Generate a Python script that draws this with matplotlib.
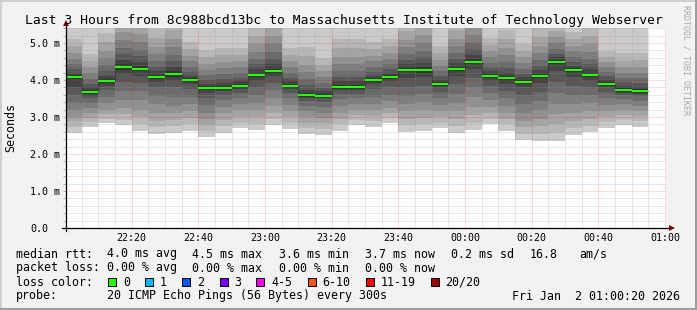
import numpy as np
import pandas as pd
import matplotlib
matplotlib.use('Agg')
import matplotlib.pyplot as plt
import matplotlib.dates as mdates
from matplotlib.ticker import MultipleLocator
from matplotlib.patches import Rectangle

plt.rcParams['font.family'] = ['DejaVu Sans Mono']

# one round of 20 pings every 300 s
steps = pd.date_range('2026-01-01 22:00', periods=35, freq='5min')
view_start = pd.Timestamp('2026-01-01 22:00:20')
view_end = pd.Timestamp('2026-01-02 01:00:20')

median_ms = [4.08, 3.68, 3.97, 4.35, 4.30, 4.08, 4.16, 4.00, 3.78, 3.78,
             3.84, 4.14, 4.24, 3.84, 3.59, 3.57, 3.81, 3.81, 4.00, 4.08,
             4.27, 4.27, 3.89, 4.30, 4.49, 4.11, 4.05, 3.95, 4.11, 4.49,
             4.27, 4.14, 3.89, 3.73, 3.70]

# sorted pings 2..19 of every round (ms)
pings_ms = [
    [2.58, 2.74, 2.88, 3.01, 3.20, 3.38, 3.60, 3.82, 4.02, 4.13, 4.20, 4.30, 4.43, 4.58, 4.74, 4.91, 5.10, 5.58],
    [2.74, 2.86, 2.98, 3.10, 3.25, 3.38, 3.50, 3.58, 3.63, 3.73, 3.80, 3.90, 4.03, 4.18, 4.34, 4.51, 4.70, 5.70],
    [2.83, 2.95, 3.08, 3.20, 3.38, 3.55, 3.73, 3.85, 3.92, 4.03, 4.12, 4.25, 4.41, 4.59, 4.79, 5.02, 5.27, 5.77],
    [2.78, 2.92, 3.08, 3.25, 3.45, 3.70, 3.95, 4.15, 4.28, 4.42, 4.53, 4.69, 4.87, 5.07, 5.30, 5.55, 5.85, 6.35],
    [2.62, 2.80, 3.00, 3.20, 3.45, 3.70, 3.92, 4.10, 4.23, 4.37, 4.48, 4.64, 4.82, 5.02, 5.25, 5.50, 5.80, 6.30],
    [2.54, 2.72, 2.90, 3.10, 3.35, 3.58, 3.80, 3.95, 4.02, 4.14, 4.23, 4.36, 4.52, 4.70, 4.90, 5.13, 5.38, 5.88],
    [2.58, 2.75, 2.92, 3.10, 3.30, 3.55, 3.80, 4.00, 4.09, 4.23, 4.34, 4.50, 4.68, 4.88, 5.11, 5.36, 5.66, 6.16],
    [2.62, 2.80, 2.98, 3.15, 3.35, 3.55, 3.75, 3.90, 3.95, 4.05, 4.12, 4.22, 4.35, 4.50, 4.66, 4.83, 5.02, 5.60],
    [2.47, 2.62, 2.78, 2.95, 3.12, 3.32, 3.50, 3.65, 3.73, 3.83, 3.90, 4.00, 4.13, 4.28, 4.44, 4.61, 4.80, 5.70],
    [2.58, 2.75, 2.92, 3.10, 3.28, 3.45, 3.60, 3.70, 3.73, 3.83, 3.91, 4.02, 4.16, 4.32, 4.49, 4.67, 4.87, 5.70],
    [2.69, 2.85, 3.00, 3.18, 3.35, 3.50, 3.65, 3.76, 3.79, 3.89, 3.96, 4.06, 4.19, 4.34, 4.50, 4.67, 4.86, 5.70],
    [2.65, 2.82, 3.00, 3.18, 3.38, 3.60, 3.82, 4.00, 4.08, 4.20, 4.29, 4.42, 4.58, 4.76, 4.96, 5.19, 5.44, 5.94],
    [2.78, 2.95, 3.12, 3.30, 3.50, 3.72, 3.92, 4.10, 4.17, 4.31, 4.42, 4.58, 4.76, 4.96, 5.19, 5.44, 5.74, 6.24],
    [2.68, 2.85, 3.00, 3.15, 3.32, 3.50, 3.65, 3.75, 3.79, 3.89, 3.96, 4.06, 4.19, 4.34, 4.50, 4.67, 4.86, 5.70],
    [2.54, 2.70, 2.85, 3.00, 3.15, 3.30, 3.42, 3.52, 3.53, 3.65, 3.74, 3.87, 4.03, 4.21, 4.41, 4.64, 4.89, 5.70],
    [2.51, 2.68, 2.83, 2.98, 3.12, 3.28, 3.40, 3.50, 3.52, 3.62, 3.69, 3.79, 3.92, 4.07, 4.23, 4.40, 4.59, 5.60],
    [2.63, 2.80, 2.95, 3.12, 3.30, 3.48, 3.62, 3.74, 3.75, 3.87, 3.96, 4.09, 4.25, 4.43, 4.63, 4.86, 5.11, 5.61],
    [2.78, 2.92, 3.05, 3.20, 3.35, 3.50, 3.62, 3.73, 3.75, 3.87, 3.96, 4.09, 4.25, 4.43, 4.63, 4.86, 5.11, 5.61],
    [2.72, 2.88, 3.02, 3.18, 3.35, 3.55, 3.75, 3.90, 3.95, 4.05, 4.12, 4.22, 4.35, 4.50, 4.66, 4.83, 5.02, 5.60],
    [2.83, 2.97, 3.10, 3.25, 3.42, 3.60, 3.80, 3.96, 4.03, 4.13, 4.20, 4.30, 4.43, 4.58, 4.74, 4.91, 5.10, 5.60],
    [2.60, 2.78, 2.95, 3.15, 3.35, 3.58, 3.82, 4.05, 4.21, 4.33, 4.42, 4.55, 4.71, 4.89, 5.09, 5.32, 5.57, 6.07],
    [2.63, 2.80, 2.98, 3.18, 3.40, 3.62, 3.85, 4.08, 4.20, 4.34, 4.45, 4.61, 4.79, 4.99, 5.22, 5.47, 5.77, 6.27],
    [2.71, 2.85, 3.00, 3.15, 3.32, 3.50, 3.68, 3.80, 3.84, 3.94, 4.01, 4.11, 4.24, 4.39, 4.55, 4.72, 4.91, 5.70],
    [2.56, 2.75, 2.95, 3.15, 3.38, 3.62, 3.88, 4.10, 4.24, 4.36, 4.45, 4.58, 4.74, 4.92, 5.12, 5.35, 5.60, 6.10],
    [2.66, 2.85, 3.05, 3.28, 3.55, 3.80, 4.05, 4.30, 4.42, 4.56, 4.67, 4.83, 5.01, 5.21, 5.44, 5.69, 5.99, 6.49],
    [2.80, 2.95, 3.10, 3.28, 3.45, 3.65, 3.85, 4.00, 4.06, 4.16, 4.23, 4.33, 4.46, 4.61, 4.77, 4.94, 5.13, 5.61],
    [2.63, 2.80, 2.95, 3.12, 3.30, 3.50, 3.70, 3.88, 3.99, 4.11, 4.20, 4.33, 4.49, 4.67, 4.87, 5.10, 5.35, 5.85],
    [2.39, 2.55, 2.72, 2.90, 3.10, 3.35, 3.60, 3.80, 3.90, 4.00, 4.07, 4.17, 4.30, 4.45, 4.61, 4.78, 4.97, 5.60],
    [2.36, 2.55, 2.75, 2.95, 3.18, 3.42, 3.68, 3.92, 4.05, 4.17, 4.26, 4.39, 4.55, 4.73, 4.93, 5.16, 5.41, 5.91],
    [2.36, 2.58, 2.82, 3.08, 3.35, 3.65, 3.95, 4.25, 4.44, 4.54, 4.61, 4.71, 4.84, 4.99, 5.15, 5.32, 5.51, 5.99],
    [2.51, 2.70, 2.90, 3.12, 3.35, 3.60, 3.85, 4.08, 4.22, 4.32, 4.39, 4.49, 4.62, 4.77, 4.93, 5.10, 5.29, 5.77],
    [2.59, 2.76, 2.95, 3.15, 3.38, 3.60, 3.82, 4.00, 4.08, 4.20, 4.29, 4.42, 4.58, 4.76, 4.96, 5.19, 5.44, 5.94],
    [2.71, 2.86, 3.00, 3.16, 3.33, 3.50, 3.68, 3.80, 3.84, 3.94, 4.01, 4.10, 4.22, 4.35, 4.48, 4.62, 4.78, 5.60],
    [2.78, 2.92, 3.06, 3.20, 3.35, 3.48, 3.60, 3.66, 3.68, 3.78, 3.85, 3.94, 4.06, 4.20, 4.35, 4.52, 4.72, 5.60],
    [2.74, 2.88, 3.02, 3.16, 3.30, 3.44, 3.56, 3.63, 3.65, 3.75, 3.82, 3.92, 4.05, 4.20, 4.36, 4.53, 4.72, 5.60],
]

ytick_vals = [0, 1, 2, 3, 4, 5]
ytick_labels = ['0.0', '1.0 m', '2.0 m', '3.0 m', '4.0 m', '5.0 m']

loss_labels = ['0', '1', '2', '3', '4-5', '6-10', '11-19', '20/20']
loss_colors = ['#26ff00', '#00b8ff', '#0059ff', '#7e00ff', '#ff00ff', '#ff5500', '#ff0000', '#a00000']

title = 'Last 3 Hours from 8c988bcd13bc to Massachusetts Institute of Technology Webserver'
rtt_items = ['4.0 ms avg', '4.5 ms max', '3.6 ms min', '3.7 ms now', '0.2 ms sd', '16.8', 'am/s']
loss_items = ['0.00 % avg', '0.00 % max', '0.00 % min', '0.00 % now']
probe_text = '20 ICMP Echo Pings (56 Bytes) every 300s'
stamp = 'Fri Jan  2 01:00:20 2026'

W, H = 697, 310
fig = plt.figure(figsize=(W / 100, H / 100), dpi=100, facecolor='#f2f2f2')
ax = fig.add_axes([66 / W, (H - 228) / H, 600 / W, 200 / H])
ax.set_facecolor('white')

# smoke: band between ping i and ping n+1-i, darker toward the median
x = mdates.date2num(steps)
w = 5 / 1440
P = np.array(pings_ms)
greys = [202, 183, 164, 145, 126, 107, 88, 69, 50]
for j, g in enumerate(greys):
    lo, hi = P[:, j], P[:, 17 - j]
    ax.bar(x, hi - lo, bottom=lo, width=w, align='edge', linewidth=0,
           color='#%02x%02x%02x' % (g, g, g), antialiased=False, zorder=1)

ax.step(np.append(x, x[-1] + w), np.append(median_ms, median_ms[-1]), where='post',
        color='#202020', lw=0.72, ls=(0, (1, 1)), zorder=3)
ax.hlines(median_ms, x, x + w, colors=loss_colors[0], lw=1.5, zorder=4)

ax.set_xlim(mdates.date2num(view_start), mdates.date2num(view_end))
ax.set_ylim(0, 5.405)

ax.xaxis.set_major_locator(mdates.MinuteLocator(byminute=[0, 20, 40]))
ax.xaxis.set_minor_locator(mdates.MinuteLocator(byminute=range(0, 60, 5)))
ax.xaxis.set_major_formatter(mdates.DateFormatter('%H:%M'))
ax.set_yticks(ytick_vals, labels=ytick_labels, ha='left')
ax.yaxis.set_minor_locator(MultipleLocator(0.2))

ax.set_axisbelow(False)
ax.grid(which='minor', color='#909090', alpha=0.4, lw=0.72, ls=(0, (1, 1)))
ax.grid(which='major', color='#ff0000', alpha=0.3, lw=0.72, ls=(0, (1, 1)))
ax.tick_params(axis='x', which='both', length=0, pad=3.6, labelsize=7.2)
ax.tick_params(axis='y', which='both', length=2.16, width=0.72, color='#b0b0b0',
               pad=23.76, labelsize=7.2)
for s in ax.spines.values():
    s.set_visible(False)

# rrdtool style axes with arrows
ax.plot([-4 / 600, 1 + 3 / 600], [0, 0], transform=ax.transAxes, color='black',
        lw=0.9, clip_on=False, zorder=6)
ax.plot([0, 0], [-3 / 200, 1 + 4 / 200], transform=ax.transAxes, color='black',
        lw=0.9, clip_on=False, zorder=6)
ax.plot([1 + 6 / 600], [0], marker='>', ms=4.5, color='#7f0000', mew=0,
        transform=ax.transAxes, clip_on=False, zorder=7)
ax.plot([0], [1 + 5 / 200], marker='^', ms=4.5, color='#7f0000', mew=0,
        transform=ax.transAxes, clip_on=False, zorder=7)

def px(xp, yp):
    return xp / W, 1 - yp / H

fig.text(*px(344, 24), title, ha='center', va='baseline', fontsize=9.4)
fig.text(*px(10.5, 128), 'Seconds', rotation=90, ha='center', va='center', fontsize=8.4)
fig.text(*px(686, 60), 'RRDTOOL / TOBI OETIKER', rotation=-90, ha='center', va='center',
         fontsize=6, color='#a8a8a8')

fs = 8.4
rtt_x = [107, 192.4, 279, 365, 451, 530, 579.6]
fig.text(*px(16, 257.5), 'median rtt:', fontsize=fs, va='baseline')
for xp, t in zip(rtt_x, rtt_items):
    fig.text(*px(xp, 257.5), t, fontsize=fs, va='baseline')
fig.text(*px(16, 271.5), 'packet loss:', fontsize=fs, va='baseline')
for xp, t in zip(rtt_x, loss_items):
    fig.text(*px(xp, 271.5), t, fontsize=fs, va='baseline')

fig.text(*px(16, 285.5), 'loss color:', fontsize=fs, va='baseline')
box_x = [108, 145.3, 182.2, 219.6, 256.4, 307.6, 365.8, 430.7]
lab_x = [123.1, 160, 196.9, 234.2, 271.1, 322.2, 380.4, 445.3]
for bx, lx, c, t in zip(box_x, lab_x, loss_colors, loss_labels):
    fig.patches.append(Rectangle(px(bx, 286), 8 / W, 8 / H, transform=fig.transFigure,
                                 facecolor=c, edgecolor='black', lw=0.72))
    fig.text(*px(lx, 285.5), t, fontsize=fs, va='baseline')

fig.text(*px(16, 299.5), 'probe:', fontsize=fs, va='baseline')
fig.text(*px(107, 299.5), probe_text, fontsize=fs, va='baseline')
fig.text(*px(680, 299.5), stamp, fontsize=fs, va='baseline', ha='right')

# image border shading
for rect, col in [((0, 1 - 2 / H, 1, 2 / H), '#cfcfcf'), ((0, 0, 2 / W, 1), '#cfcfcf'),
                  ((0, 0, 1, 2 / H), '#9e9e9e'), ((1 - 2 / W, 0, 2 / W, 1), '#9e9e9e')]:
    fig.patches.append(Rectangle(rect[:2], rect[2], rect[3], transform=fig.transFigure,
                                 facecolor=col, edgecolor='none'))

fig.savefig('out.png', dpi=100, facecolor=fig.get_facecolor())
